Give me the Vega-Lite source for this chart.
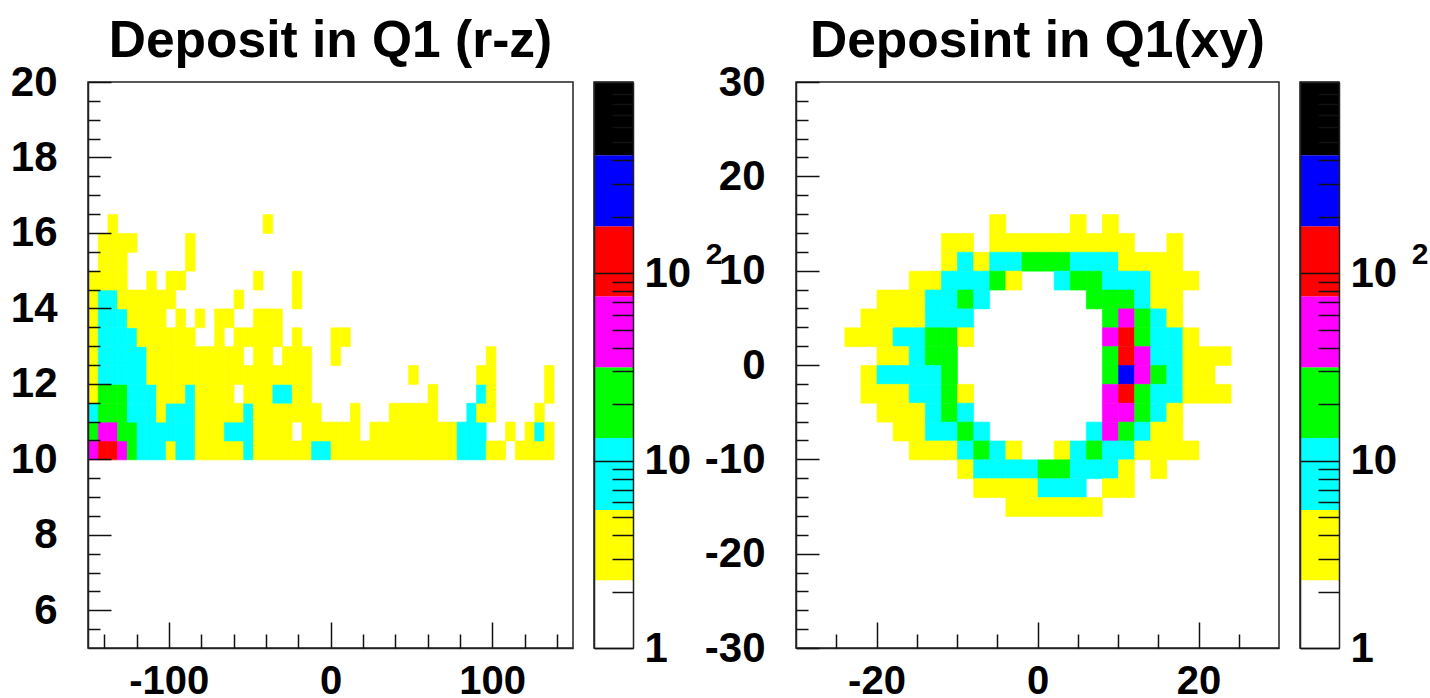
{"$schema":"https://vega.github.io/schema/vega-lite/v6.json","background":"white","padding":{"left":9,"top":14,"right":0,"bottom":0},"autosize":{"type":"pad"},"config":{"view":{"stroke":"#222","strokeWidth":1.5},"font":"Liberation Sans","axis":{"title":null,"grid":false,"labelFont":"Liberation Sans","labelFontWeight":"bold","labelFontSize":42,"labelColor":"black","tickColor":"#111","tickWidth":1.5,"domainColor":"#222","domainWidth":1.5,"labelOverlap":false,"labelFlush":false},"title":{"font":"Liberation Sans","fontWeight":"bold","fontSize":51.5,"color":"black","anchor":"middle","offset":-6}},
"datasets":{"bar":[{"lo":1,"hi":2.3,"v":1.5},{"lo":2.3,"hi":5.45,"v":3.5},{"lo":5.45,"hi":13.2,"v":8.5},{"lo":13.2,"hi":31.5,"v":20},{"lo":31.5,"hi":75.4,"v":48},{"lo":75.4,"hi":178,"v":115},{"lo":178,"hi":426,"v":275},{"lo":426,"hi":1047,"v":660}],"sup":[{"lo":100,"label":"2"}],
"rz":[
{"z":-150,"r":10,"v":48},{"z":-144,"r":10,"v":115},{"z":-138,"r":10,"v":115},{"z":-132,"r":10,"v":48},{"z":-126,"r":10,"v":20},{"z":-120,"r":10,"v":8.5},{"z":-114,"r":10,"v":8.5},{"z":-108,"r":10,"v":8.5},{"z":-102,"r":10,"v":3.5},{"z":-96,"r":10,"v":8.5},{"z":-90,"r":10,"v":8.5},{"z":-84,"r":10,"v":3.5},{"z":-78,"r":10,"v":3.5},{"z":-72,"r":10,"v":3.5},{"z":-66,"r":10,"v":3.5},{"z":-60,"r":10,"v":3.5},{"z":-54,"r":10,"v":8.5},{"z":-48,"r":10,"v":3.5},{"z":-42,"r":10,"v":3.5},{"z":-36,"r":10,"v":3.5},{"z":-30,"r":10,"v":3.5},{"z":-24,"r":10,"v":3.5},{"z":-18,"r":10,"v":3.5},{"z":-12,"r":10,"v":8.5},{"z":-6,"r":10,"v":8.5},{"z":0,"r":10,"v":3.5},{"z":6,"r":10,"v":3.5},{"z":12,"r":10,"v":3.5},{"z":18,"r":10,"v":3.5},{"z":24,"r":10,"v":3.5},{"z":30,"r":10,"v":3.5},{"z":36,"r":10,"v":3.5},{"z":42,"r":10,"v":3.5},{"z":48,"r":10,"v":3.5},{"z":54,"r":10,"v":3.5},{"z":60,"r":10,"v":3.5},{"z":66,"r":10,"v":3.5},{"z":72,"r":10,"v":3.5},{"z":78,"r":10,"v":8.5},{"z":84,"r":10,"v":8.5},{"z":90,"r":10,"v":8.5},{"z":96,"r":10,"v":3.5},{"z":102,"r":10,"v":3.5},{"z":114,"r":10,"v":3.5},{"z":120,"r":10,"v":3.5},{"z":126,"r":10,"v":3.5},{"z":132,"r":10,"v":3.5},
{"z":-150,"r":10.5,"v":20},{"z":-144,"r":10.5,"v":48},{"z":-138,"r":10.5,"v":48},{"z":-132,"r":10.5,"v":20},{"z":-126,"r":10.5,"v":20},{"z":-120,"r":10.5,"v":8.5},{"z":-114,"r":10.5,"v":8.5},{"z":-108,"r":10.5,"v":8.5},{"z":-102,"r":10.5,"v":8.5},{"z":-96,"r":10.5,"v":8.5},{"z":-90,"r":10.5,"v":8.5},{"z":-84,"r":10.5,"v":3.5},{"z":-78,"r":10.5,"v":3.5},{"z":-72,"r":10.5,"v":3.5},{"z":-66,"r":10.5,"v":8.5},{"z":-60,"r":10.5,"v":8.5},{"z":-54,"r":10.5,"v":8.5},{"z":-48,"r":10.5,"v":3.5},{"z":-42,"r":10.5,"v":3.5},{"z":-36,"r":10.5,"v":3.5},{"z":-30,"r":10.5,"v":3.5},{"z":-18,"r":10.5,"v":3.5},{"z":-12,"r":10.5,"v":3.5},{"z":-6,"r":10.5,"v":3.5},{"z":0,"r":10.5,"v":3.5},{"z":6,"r":10.5,"v":3.5},{"z":12,"r":10.5,"v":3.5},{"z":24,"r":10.5,"v":3.5},{"z":30,"r":10.5,"v":3.5},{"z":36,"r":10.5,"v":3.5},{"z":42,"r":10.5,"v":3.5},{"z":48,"r":10.5,"v":3.5},{"z":54,"r":10.5,"v":3.5},{"z":60,"r":10.5,"v":3.5},{"z":66,"r":10.5,"v":3.5},{"z":72,"r":10.5,"v":3.5},{"z":78,"r":10.5,"v":8.5},{"z":84,"r":10.5,"v":8.5},{"z":90,"r":10.5,"v":8.5},{"z":108,"r":10.5,"v":3.5},{"z":120,"r":10.5,"v":3.5},{"z":126,"r":10.5,"v":8.5},{"z":132,"r":10.5,"v":3.5},
{"z":-150,"r":11,"v":8.5},{"z":-144,"r":11,"v":20},{"z":-138,"r":11,"v":20},{"z":-132,"r":11,"v":20},{"z":-126,"r":11,"v":8.5},{"z":-120,"r":11,"v":8.5},{"z":-114,"r":11,"v":8.5},{"z":-108,"r":11,"v":3.5},{"z":-102,"r":11,"v":8.5},{"z":-96,"r":11,"v":8.5},{"z":-90,"r":11,"v":8.5},{"z":-84,"r":11,"v":3.5},{"z":-78,"r":11,"v":3.5},{"z":-72,"r":11,"v":3.5},{"z":-66,"r":11,"v":3.5},{"z":-60,"r":11,"v":3.5},{"z":-54,"r":11,"v":8.5},{"z":-48,"r":11,"v":3.5},{"z":-42,"r":11,"v":3.5},{"z":-36,"r":11,"v":3.5},{"z":-30,"r":11,"v":3.5},{"z":-24,"r":11,"v":3.5},{"z":-18,"r":11,"v":3.5},{"z":-12,"r":11,"v":3.5},{"z":12,"r":11,"v":3.5},{"z":36,"r":11,"v":3.5},{"z":42,"r":11,"v":3.5},{"z":48,"r":11,"v":3.5},{"z":54,"r":11,"v":3.5},{"z":60,"r":11,"v":3.5},{"z":84,"r":11,"v":8.5},{"z":90,"r":11,"v":3.5},{"z":96,"r":11,"v":3.5},{"z":126,"r":11,"v":3.5},
{"z":-150,"r":11.5,"v":3.5},{"z":-144,"r":11.5,"v":20},{"z":-138,"r":11.5,"v":20},{"z":-132,"r":11.5,"v":20},{"z":-126,"r":11.5,"v":8.5},{"z":-120,"r":11.5,"v":8.5},{"z":-114,"r":11.5,"v":8.5},{"z":-108,"r":11.5,"v":3.5},{"z":-102,"r":11.5,"v":3.5},{"z":-96,"r":11.5,"v":3.5},{"z":-90,"r":11.5,"v":8.5},{"z":-84,"r":11.5,"v":3.5},{"z":-78,"r":11.5,"v":3.5},{"z":-72,"r":11.5,"v":3.5},{"z":-66,"r":11.5,"v":3.5},{"z":-54,"r":11.5,"v":3.5},{"z":-48,"r":11.5,"v":3.5},{"z":-42,"r":11.5,"v":3.5},{"z":-36,"r":11.5,"v":8.5},{"z":-30,"r":11.5,"v":8.5},{"z":-24,"r":11.5,"v":3.5},{"z":-18,"r":11.5,"v":3.5},{"z":60,"r":11.5,"v":3.5},{"z":90,"r":11.5,"v":8.5},{"z":96,"r":11.5,"v":3.5},{"z":132,"r":11.5,"v":3.5},
{"z":-150,"r":12,"v":3.5},{"z":-144,"r":12,"v":8.5},{"z":-138,"r":12,"v":8.5},{"z":-132,"r":12,"v":8.5},{"z":-126,"r":12,"v":8.5},{"z":-120,"r":12,"v":8.5},{"z":-114,"r":12,"v":3.5},{"z":-108,"r":12,"v":3.5},{"z":-102,"r":12,"v":3.5},{"z":-96,"r":12,"v":3.5},{"z":-90,"r":12,"v":3.5},{"z":-84,"r":12,"v":3.5},{"z":-78,"r":12,"v":3.5},{"z":-72,"r":12,"v":3.5},{"z":-66,"r":12,"v":3.5},{"z":-60,"r":12,"v":3.5},{"z":-54,"r":12,"v":3.5},{"z":-48,"r":12,"v":3.5},{"z":-42,"r":12,"v":3.5},{"z":-36,"r":12,"v":3.5},{"z":-30,"r":12,"v":3.5},{"z":-24,"r":12,"v":3.5},{"z":-18,"r":12,"v":3.5},{"z":48,"r":12,"v":3.5},{"z":90,"r":12,"v":3.5},{"z":96,"r":12,"v":3.5},{"z":132,"r":12,"v":3.5},
{"z":-150,"r":12.5,"v":3.5},{"z":-144,"r":12.5,"v":8.5},{"z":-138,"r":12.5,"v":8.5},{"z":-132,"r":12.5,"v":8.5},{"z":-126,"r":12.5,"v":8.5},{"z":-120,"r":12.5,"v":8.5},{"z":-114,"r":12.5,"v":3.5},{"z":-108,"r":12.5,"v":3.5},{"z":-102,"r":12.5,"v":3.5},{"z":-96,"r":12.5,"v":3.5},{"z":-90,"r":12.5,"v":3.5},{"z":-84,"r":12.5,"v":3.5},{"z":-78,"r":12.5,"v":3.5},{"z":-72,"r":12.5,"v":3.5},{"z":-66,"r":12.5,"v":3.5},{"z":-60,"r":12.5,"v":3.5},{"z":-48,"r":12.5,"v":3.5},{"z":-42,"r":12.5,"v":3.5},{"z":-30,"r":12.5,"v":3.5},{"z":-24,"r":12.5,"v":3.5},{"z":-18,"r":12.5,"v":3.5},{"z":0,"r":12.5,"v":3.5},{"z":96,"r":12.5,"v":3.5},
{"z":-150,"r":13,"v":3.5},{"z":-144,"r":13,"v":8.5},{"z":-138,"r":13,"v":8.5},{"z":-132,"r":13,"v":8.5},{"z":-126,"r":13,"v":8.5},{"z":-120,"r":13,"v":3.5},{"z":-114,"r":13,"v":3.5},{"z":-108,"r":13,"v":3.5},{"z":-102,"r":13,"v":3.5},{"z":-96,"r":13,"v":3.5},{"z":-90,"r":13,"v":3.5},{"z":-72,"r":13,"v":3.5},{"z":-60,"r":13,"v":3.5},{"z":-54,"r":13,"v":3.5},{"z":-48,"r":13,"v":3.5},{"z":-42,"r":13,"v":3.5},{"z":-36,"r":13,"v":3.5},{"z":-24,"r":13,"v":3.5},{"z":0,"r":13,"v":3.5},{"z":6,"r":13,"v":3.5},
{"z":-150,"r":13.5,"v":3.5},{"z":-144,"r":13.5,"v":8.5},{"z":-138,"r":13.5,"v":8.5},{"z":-132,"r":13.5,"v":8.5},{"z":-126,"r":13.5,"v":3.5},{"z":-120,"r":13.5,"v":3.5},{"z":-114,"r":13.5,"v":3.5},{"z":-108,"r":13.5,"v":3.5},{"z":-96,"r":13.5,"v":3.5},{"z":-84,"r":13.5,"v":3.5},{"z":-72,"r":13.5,"v":3.5},{"z":-66,"r":13.5,"v":3.5},{"z":-48,"r":13.5,"v":3.5},{"z":-42,"r":13.5,"v":3.5},{"z":-36,"r":13.5,"v":3.5},
{"z":-150,"r":14,"v":3.5},{"z":-144,"r":14,"v":8.5},{"z":-138,"r":14,"v":8.5},{"z":-132,"r":14,"v":3.5},{"z":-126,"r":14,"v":3.5},{"z":-120,"r":14,"v":3.5},{"z":-114,"r":14,"v":3.5},{"z":-108,"r":14,"v":3.5},{"z":-102,"r":14,"v":3.5},{"z":-60,"r":14,"v":3.5},{"z":-24,"r":14,"v":3.5},
{"z":-150,"r":14.5,"v":3.5},{"z":-144,"r":14.5,"v":3.5},{"z":-138,"r":14.5,"v":3.5},{"z":-132,"r":14.5,"v":3.5},{"z":-114,"r":14.5,"v":3.5},{"z":-102,"r":14.5,"v":3.5},{"z":-96,"r":14.5,"v":3.5},{"z":-48,"r":14.5,"v":3.5},{"z":-24,"r":14.5,"v":3.5},
{"z":-144,"r":15,"v":3.5},{"z":-138,"r":15,"v":3.5},{"z":-132,"r":15,"v":3.5},{"z":-90,"r":15,"v":3.5},
{"z":-144,"r":15.5,"v":3.5},{"z":-138,"r":15.5,"v":3.5},{"z":-132,"r":15.5,"v":3.5},{"z":-126,"r":15.5,"v":3.5},{"z":-90,"r":15.5,"v":3.5},
{"z":-138,"r":16,"v":3.5},{"z":-42,"r":16,"v":3.5}],
"xy":[
{"x":-6,"y":14,"v":3.5},{"x":4,"y":14,"v":3.5},{"x":8,"y":14,"v":3.5},
{"x":-12,"y":12,"v":3.5},{"x":-10,"y":12,"v":3.5},{"x":-6,"y":12,"v":3.5},{"x":-4,"y":12,"v":3.5},{"x":-2,"y":12,"v":3.5},{"x":0,"y":12,"v":3.5},{"x":2,"y":12,"v":3.5},{"x":4,"y":12,"v":3.5},{"x":6,"y":12,"v":3.5},{"x":8,"y":12,"v":3.5},{"x":10,"y":12,"v":3.5},{"x":16,"y":12,"v":3.5},
{"x":-12,"y":10,"v":3.5},{"x":-10,"y":10,"v":8.5},{"x":-8,"y":10,"v":3.5},{"x":-6,"y":10,"v":8.5},{"x":-4,"y":10,"v":8.5},{"x":-2,"y":10,"v":20},{"x":0,"y":10,"v":20},{"x":2,"y":10,"v":20},{"x":4,"y":10,"v":8.5},{"x":6,"y":10,"v":8.5},{"x":8,"y":10,"v":8.5},{"x":10,"y":10,"v":3.5},{"x":12,"y":10,"v":3.5},{"x":14,"y":10,"v":3.5},{"x":16,"y":10,"v":3.5},
{"x":-16,"y":8,"v":3.5},{"x":-14,"y":8,"v":3.5},{"x":-12,"y":8,"v":8.5},{"x":-10,"y":8,"v":8.5},{"x":-8,"y":8,"v":8.5},{"x":-6,"y":8,"v":20},{"x":-4,"y":8,"v":3.5},{"x":2,"y":8,"v":8.5},{"x":4,"y":8,"v":20},{"x":6,"y":8,"v":20},{"x":8,"y":8,"v":8.5},{"x":10,"y":8,"v":8.5},{"x":12,"y":8,"v":8.5},{"x":14,"y":8,"v":3.5},{"x":16,"y":8,"v":3.5},{"x":18,"y":8,"v":3.5},
{"x":-20,"y":6,"v":3.5},{"x":-18,"y":6,"v":3.5},{"x":-16,"y":6,"v":3.5},{"x":-14,"y":6,"v":8.5},{"x":-12,"y":6,"v":8.5},{"x":-10,"y":6,"v":20},{"x":-8,"y":6,"v":8.5},{"x":6,"y":6,"v":20},{"x":8,"y":6,"v":20},{"x":10,"y":6,"v":20},{"x":12,"y":6,"v":8.5},{"x":14,"y":6,"v":3.5},{"x":16,"y":6,"v":3.5},
{"x":-22,"y":4,"v":3.5},{"x":-20,"y":4,"v":3.5},{"x":-18,"y":4,"v":3.5},{"x":-16,"y":4,"v":3.5},{"x":-14,"y":4,"v":8.5},{"x":-12,"y":4,"v":8.5},{"x":-10,"y":4,"v":8.5},{"x":8,"y":4,"v":20},{"x":10,"y":4,"v":48},{"x":12,"y":4,"v":20},{"x":14,"y":4,"v":8.5},{"x":16,"y":4,"v":3.5},
{"x":-24,"y":2,"v":3.5},{"x":-22,"y":2,"v":3.5},{"x":-20,"y":2,"v":3.5},{"x":-18,"y":2,"v":8.5},{"x":-16,"y":2,"v":8.5},{"x":-14,"y":2,"v":20},{"x":-12,"y":2,"v":20},{"x":-10,"y":2,"v":3.5},{"x":8,"y":2,"v":48},{"x":10,"y":2,"v":115},{"x":12,"y":2,"v":20},{"x":14,"y":2,"v":8.5},{"x":16,"y":2,"v":8.5},{"x":18,"y":2,"v":3.5},
{"x":-20,"y":0,"v":3.5},{"x":-18,"y":0,"v":3.5},{"x":-16,"y":0,"v":8.5},{"x":-14,"y":0,"v":20},{"x":-12,"y":0,"v":20},{"x":8,"y":0,"v":20},{"x":10,"y":0,"v":115},{"x":12,"y":0,"v":48},{"x":14,"y":0,"v":8.5},{"x":16,"y":0,"v":8.5},{"x":18,"y":0,"v":3.5},{"x":20,"y":0,"v":3.5},{"x":22,"y":0,"v":3.5},
{"x":-22,"y":-2,"v":3.5},{"x":-20,"y":-2,"v":8.5},{"x":-18,"y":-2,"v":8.5},{"x":-16,"y":-2,"v":8.5},{"x":-14,"y":-2,"v":8.5},{"x":-12,"y":-2,"v":20},{"x":8,"y":-2,"v":20},{"x":10,"y":-2,"v":275},{"x":12,"y":-2,"v":48},{"x":14,"y":-2,"v":20},{"x":16,"y":-2,"v":8.5},{"x":18,"y":-2,"v":3.5},{"x":20,"y":-2,"v":3.5},
{"x":-22,"y":-4,"v":3.5},{"x":-20,"y":-4,"v":3.5},{"x":-18,"y":-4,"v":3.5},{"x":-16,"y":-4,"v":8.5},{"x":-14,"y":-4,"v":8.5},{"x":-12,"y":-4,"v":20},{"x":-10,"y":-4,"v":3.5},{"x":8,"y":-4,"v":48},{"x":10,"y":-4,"v":115},{"x":12,"y":-4,"v":20},{"x":14,"y":-4,"v":8.5},{"x":16,"y":-4,"v":8.5},{"x":18,"y":-4,"v":3.5},{"x":20,"y":-4,"v":3.5},{"x":22,"y":-4,"v":3.5},
{"x":-20,"y":-6,"v":3.5},{"x":-18,"y":-6,"v":3.5},{"x":-16,"y":-6,"v":3.5},{"x":-14,"y":-6,"v":8.5},{"x":-12,"y":-6,"v":20},{"x":-10,"y":-6,"v":8.5},{"x":8,"y":-6,"v":48},{"x":10,"y":-6,"v":48},{"x":12,"y":-6,"v":20},{"x":14,"y":-6,"v":8.5},{"x":16,"y":-6,"v":3.5},
{"x":-18,"y":-8,"v":3.5},{"x":-16,"y":-8,"v":3.5},{"x":-14,"y":-8,"v":8.5},{"x":-12,"y":-8,"v":8.5},{"x":-10,"y":-8,"v":20},{"x":-8,"y":-8,"v":8.5},{"x":6,"y":-8,"v":8.5},{"x":8,"y":-8,"v":48},{"x":10,"y":-8,"v":20},{"x":12,"y":-8,"v":8.5},{"x":14,"y":-8,"v":3.5},{"x":16,"y":-8,"v":3.5},
{"x":-16,"y":-10,"v":3.5},{"x":-14,"y":-10,"v":3.5},{"x":-12,"y":-10,"v":3.5},{"x":-10,"y":-10,"v":8.5},{"x":-8,"y":-10,"v":20},{"x":-6,"y":-10,"v":8.5},{"x":-4,"y":-10,"v":3.5},{"x":2,"y":-10,"v":3.5},{"x":4,"y":-10,"v":8.5},{"x":6,"y":-10,"v":20},{"x":8,"y":-10,"v":8.5},{"x":10,"y":-10,"v":8.5},{"x":12,"y":-10,"v":3.5},{"x":14,"y":-10,"v":3.5},{"x":16,"y":-10,"v":3.5},{"x":18,"y":-10,"v":3.5},
{"x":-10,"y":-12,"v":3.5},{"x":-8,"y":-12,"v":8.5},{"x":-6,"y":-12,"v":8.5},{"x":-4,"y":-12,"v":8.5},{"x":-2,"y":-12,"v":8.5},{"x":0,"y":-12,"v":20},{"x":2,"y":-12,"v":20},{"x":4,"y":-12,"v":8.5},{"x":6,"y":-12,"v":8.5},{"x":8,"y":-12,"v":8.5},{"x":10,"y":-12,"v":3.5},{"x":14,"y":-12,"v":3.5},
{"x":-8,"y":-14,"v":3.5},{"x":-6,"y":-14,"v":3.5},{"x":-4,"y":-14,"v":3.5},{"x":-2,"y":-14,"v":3.5},{"x":0,"y":-14,"v":8.5},{"x":2,"y":-14,"v":8.5},{"x":4,"y":-14,"v":8.5},{"x":8,"y":-14,"v":3.5},{"x":10,"y":-14,"v":3.5},
{"x":-4,"y":-16,"v":3.5},{"x":-2,"y":-16,"v":3.5},{"x":0,"y":-16,"v":3.5},{"x":2,"y":-16,"v":3.5},{"x":4,"y":-16,"v":3.5},{"x":6,"y":-16,"v":3.5}]},
"bounds":"flush","spacing":21,"hconcat":[
{"title":"Deposit in Q1 (r-z)","width":485,"height":566,"data":{"name":"rz"},"resolve":{"axis":{"x":"independent","y":"independent"}},"layer":[
{"mark":{"type":"rect","strokeWidth":0.6},"encoding":{
"x":{"field":"z","type":"quantitative","bin":{"binned":true,"step":6},"scale":{"domain":[-150,150],"nice":false,"zero":false},"axis":{"orient":"bottom","zindex":1,"values":[-100,0,100],"labelExpr":"''+datum.value","tickSize":-26,"labelPadding":39,"labelFontSize":40}},
"y":{"field":"r","type":"quantitative","bin":{"binned":true,"step":0.5},"scale":{"domain":[5,20],"nice":false,"zero":false},"axis":{"orient":"left","zindex":1,"values":[6,8,10,12,14,16,18,20],"labelExpr":"''+datum.value","tickSize":-23,"labelPadding":54}},
"color":{"field":"v","type":"quantitative","legend":null,"scale":{"type":"threshold","domain":[2.3,5.45,13.2,31.5,75.4,178,426],"range":["#ffffff","#ffff00","#00ffff","#00ff00","#ff00ff","#ff0000","#0000ff","#000000"]}},
"stroke":{"field":"v","type":"quantitative","legend":null,"scale":{"type":"threshold","domain":[2.3,5.45,13.2,31.5,75.4,178,426],"range":["#ffffff","#ffff00","#00ffff","#00ff00","#ff00ff","#ff0000","#0000ff","#000000"]}}}},
{"mark":{"type":"rect","opacity":0},"encoding":{
"x":{"field":"z","type":"quantitative","bin":{"binned":true,"step":6},"axis":{"orient":"bottom","zindex":1,"values":[-140,-120,-80,-60,-40,-20,20,40,60,80,120,140],"tickSize":-14,"labels":false,"domain":false}},
"y":{"field":"r","type":"quantitative","bin":{"binned":true,"step":0.5},"axis":{"orient":"left","zindex":1,"values":[5.5,6.5,7,7.5,8.5,9,9.5,10.5,11,11.5,12.5,13,13.5,14.5,15,15.5,16.5,17,17.5,18.5,19,19.5],"tickSize":-12,"labels":false,"domain":false}}}}]},
{"width":39,"height":566,"data":{"name":"bar"},"resolve":{"axis":{"x":"independent","y":"independent"}},"layer":[
{"mark":{"type":"rect"},"encoding":{
"x":{"datum":0,"type":"quantitative","scale":{"domain":[0,1],"nice":false},"axis":{"orient":"bottom","zindex":1,"ticks":false,"labels":false}},"x2":{"datum":1},
"y":{"field":"lo","type":"quantitative","scale":{"type":"log","domain":[1,1047],"nice":false},"axis":{"orient":"right","zindex":1,"values":[1,10,100],"labelExpr":"datum.value==100?'10':''+datum.value","tickSize":-39,"labelPadding":50}},"y2":{"field":"hi"},
"color":{"field":"v","type":"quantitative","legend":null,"scale":{"type":"threshold","domain":[2.3,5.45,13.2,31.5,75.4,178,426],"range":["#ffffff","#ffff00","#00ffff","#00ff00","#ff00ff","#ff0000","#0000ff","#000000"]}}}},
{"mark":{"type":"rect","opacity":0},"encoding":{
"x":{"datum":0,"type":"quantitative","axis":{"orient":"top","zindex":1,"ticks":false,"labels":false}},"x2":{"datum":1},
"y":{"field":"lo","type":"quantitative","axis":{"orient":"right","zindex":1,"values":[2,3,4,5,6,7,8,9,20,30,40,50,60,70,80,90,200,300,400,500,600,700,800,900],"tickSize":-21,"labels":false,"domain":false}},"y2":{"field":"hi"}}},
{"mark":{"type":"rect","opacity":0},"encoding":{
"x":{"datum":0,"type":"quantitative","axis":null},"x2":{"datum":1},
"y":{"field":"lo","type":"quantitative","axis":{"orient":"left","zindex":1,"ticks":false,"labels":false}},"y2":{"field":"hi"}}},
{"data":{"name":"sup"},"mark":{"type":"text","font":"Liberation Sans","fontWeight":"bold","fontSize":30,"dx":81,"dy":-18,"color":"black"},"encoding":{"x":{"datum":1,"type":"quantitative","axis":null},"y":{"field":"lo","type":"quantitative","axis":null},"text":{"field":"label"}}}]},
{"width":121,"height":566,"view":{"stroke":null},"data":{"values":[{"a":0}]},"mark":{"type":"rect","opacity":0},"encoding":{}},
{"title":"Deposint in Q1(xy)","width":483,"height":566,"data":{"name":"xy"},"resolve":{"axis":{"x":"independent","y":"independent"}},"layer":[
{"mark":{"type":"rect","strokeWidth":0.6},"encoding":{
"x":{"field":"x","type":"quantitative","bin":{"binned":true,"step":2},"scale":{"domain":[-30,30],"nice":false,"zero":false},"axis":{"orient":"bottom","zindex":1,"values":[-20,0,20],"labelExpr":"''+datum.value","tickSize":-26,"labelPadding":39,"labelFontSize":40}},
"y":{"field":"y","type":"quantitative","bin":{"binned":true,"step":2},"scale":{"domain":[-30,30],"nice":false,"zero":false},"axis":{"orient":"left","zindex":1,"values":[-30,-20,-10,0,10,20,30],"labelExpr":"''+datum.value","tickSize":-23,"labelPadding":54}},
"color":{"field":"v","type":"quantitative","legend":null,"scale":{"type":"threshold","domain":[2.3,5.45,13.2,31.5,75.4,178,426],"range":["#ffffff","#ffff00","#00ffff","#00ff00","#ff00ff","#ff0000","#0000ff","#000000"]}},
"stroke":{"field":"v","type":"quantitative","legend":null,"scale":{"type":"threshold","domain":[2.3,5.45,13.2,31.5,75.4,178,426],"range":["#ffffff","#ffff00","#00ffff","#00ff00","#ff00ff","#ff0000","#0000ff","#000000"]}}}},
{"mark":{"type":"rect","opacity":0},"encoding":{
"x":{"field":"x","type":"quantitative","bin":{"binned":true,"step":2},"axis":{"orient":"bottom","zindex":1,"values":[-25,-15,-10,-5,5,10,15,25],"tickSize":-14,"labels":false,"domain":false}},
"y":{"field":"y","type":"quantitative","bin":{"binned":true,"step":2},"axis":{"orient":"left","zindex":1,"values":[-28,-26,-24,-22,-18,-16,-14,-12,-8,-6,-4,-2,2,4,6,8,12,14,16,18,22,24,26,28],"tickSize":-12,"labels":false,"domain":false}}}}]},
{"width":39,"height":566,"data":{"name":"bar"},"resolve":{"axis":{"x":"independent","y":"independent"}},"layer":[
{"mark":{"type":"rect"},"encoding":{
"x":{"datum":0,"type":"quantitative","scale":{"domain":[0,1],"nice":false},"axis":{"orient":"bottom","zindex":1,"ticks":false,"labels":false}},"x2":{"datum":1},
"y":{"field":"lo","type":"quantitative","scale":{"type":"log","domain":[1,1047],"nice":false},"axis":{"orient":"right","zindex":1,"values":[1,10,100],"labelExpr":"datum.value==100?'10':''+datum.value","tickSize":-39,"labelPadding":50}},"y2":{"field":"hi"},
"color":{"field":"v","type":"quantitative","legend":null,"scale":{"type":"threshold","domain":[2.3,5.45,13.2,31.5,75.4,178,426],"range":["#ffffff","#ffff00","#00ffff","#00ff00","#ff00ff","#ff0000","#0000ff","#000000"]}}}},
{"mark":{"type":"rect","opacity":0},"encoding":{
"x":{"datum":0,"type":"quantitative","axis":{"orient":"top","zindex":1,"ticks":false,"labels":false}},"x2":{"datum":1},
"y":{"field":"lo","type":"quantitative","axis":{"orient":"right","zindex":1,"values":[2,3,4,5,6,7,8,9,20,30,40,50,60,70,80,90,200,300,400,500,600,700,800,900],"tickSize":-21,"labels":false,"domain":false}},"y2":{"field":"hi"}}},
{"mark":{"type":"rect","opacity":0},"encoding":{
"x":{"datum":0,"type":"quantitative","axis":null},"x2":{"datum":1},
"y":{"field":"lo","type":"quantitative","axis":{"orient":"left","zindex":1,"ticks":false,"labels":false}},"y2":{"field":"hi"}}},
{"data":{"name":"sup"},"mark":{"type":"text","font":"Liberation Sans","fontWeight":"bold","fontSize":30,"dx":81,"dy":-18,"color":"black"},"encoding":{"x":{"datum":1,"type":"quantitative","axis":null},"y":{"field":"lo","type":"quantitative","axis":null},"text":{"field":"label"}}}]}]}
